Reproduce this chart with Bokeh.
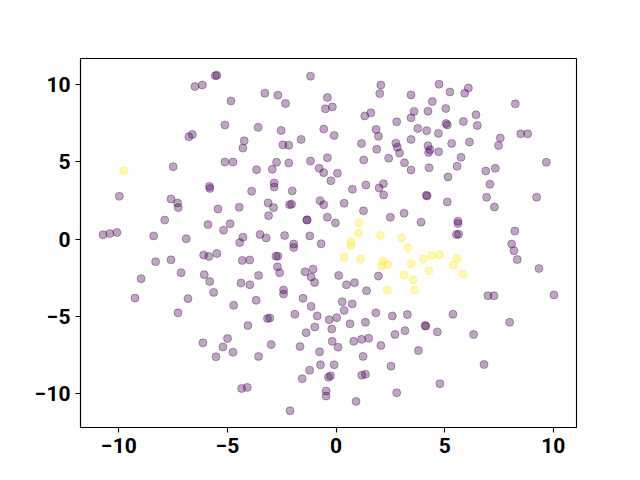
from bokeh.plotting import figure
from bokeh.models import Range1d, FixedTicker, ColumnDataSource
from bokeh.embed import file_html
from bokeh.resources import INLINE
from bokeh.palettes import Viridis256

# class 0 points (purple)
x0 = [-6.50, -6.16, -6.78, -6.62, -7.50, -9.98, -7.60, -7.30, -7.27, -7.89, -10.73, -10.42, -10.09, -8.40, -6.90,
      -5.56, -5.49, -1.18, -4.84, -3.28, -2.68, -2.33, -0.49, -5.12, -3.59, -2.53, -0.57, -4.23, -4.29, -2.45, -2.18,
      -1.61, -5.12, -4.75, -3.66, -2.94, -2.74, -2.18, -1.18, -0.78, -0.57, -5.83, -5.81, -3.89, -2.85, -2.85, -2.02,
      -5.44, -4.46, -3.13, -2.88, -2.14, -2.05, -0.74, -0.57, -3.11, -1.35, -1.33, -5.90, -5.18, -4.88, -4.29, -3.50,
      -3.22, -2.37, -1.21,
      -0.40, -0.17, 2.06, 2.01, 3.45, 4.74, 5.24, 4.43, 5.05, 1.32, 1.60, 2.79, 3.59, 3.45, 4.23, 5.06, 5.12, -0.09,
      1.84, 1.95, 3.76, 4.17, 4.71, 1.17, 1.87, 2.75, 2.82, 2.92, 3.45, 4.23, 4.26, 4.32, 4.72, -0.40, 1.27, 2.42,
      3.15, 3.45, 4.28, 0.06, -0.24, 0.75, 1.37, 1.98, 2.18, 2.19, 5.15, 4.16, 4.19, 5.12, 0.37, 1.26, 2.50, 3.13,
      3.91, -0.40, -0.03,
      5.32, 5.92, 6.09, 8.25, 6.44, 5.86, 6.50, 8.50, 8.82, 7.56, 7.48, 6.14, 5.75, 5.57, 6.89, 7.33, 9.68, 7.08,
      6.93, 7.29, 9.23, 5.61, 5.61, 5.54, 5.64, 8.23,
      -8.31, -7.60, -8.98, -7.14, -9.26, -6.82, -7.28,
      -4.44, -1.95, -1.95, -0.69, -6.10, -5.86, -5.49, -4.32, -3.98, -2.77, -2.68, -2.70, -2.60, -3.57, -4.38, -3.97,
      -6.07, -5.82, -5.64, -2.42, -2.42, -1.43, -1.06, -1.15, -0.99, -1.52, -1.15, -3.68, -4.72, -0.87, -1.90, -3.16,
      -3.05, -4.06, -0.98, -1.38, -6.13, -5.00, -5.21, -4.75, -5.53, -2.99, -3.57, -1.66, -0.76, -0.72, -1.22, -1.56,
      -0.46, -0.46, -4.35, -4.09, -2.12,
      0.12, 0.48, 0.85, 1.95, 1.40, 0.28, 0.74, 0.37, -0.32, 0.03, -0.20, 0.64, 1.35, 1.83, 2.59, 3.28, 4.10, 4.13,
      4.66, 3.17, 2.71, -0.18, 0.09, 0.81, 1.18, 1.50, 2.06, 3.79, 1.24, -0.09, -0.35, -0.26, 2.53, 1.18, 1.35, 2.79,
      4.78, 0.92,
      8.08, 8.19, 8.34, 9.34, 6.99, 7.27, 10.03, 5.38, 7.99, 6.33, 6.81]
y0 = [9.87, 9.97, 6.62, 6.77, 4.68, 2.77, 2.60, 2.34, 2.04, 1.23, 0.28, 0.36, 0.43, 0.21, 0.02,
      10.57, 10.60, 10.54, 8.94, 9.44, 9.31, 8.77, 8.43, 7.39, 7.23, 7.03, 7.12, 6.36, 5.89, 6.10, 6.08,
      6.45, 4.99, 4.99, 4.49, 4.52, 4.97, 4.92, 5.05, 4.58, 4.30, 3.41, 3.28, 3.10, 3.63, 3.37, 3.12,
      1.95, 2.06, 2.34, 2.04, 2.23, 2.26, 2.49, 2.23, 1.52, 1.23, 1.25, 0.94, 0.58, 0.99, 0.13, 0.30,
      0.08, 0.23, 0.21,
      9.16, 8.55, 9.97, 9.42, 9.33, 10.02, 9.52, 8.90, 8.45, 7.97, 8.17, 7.59, 8.26, 7.85, 8.28, 7.48, 7.39, 6.71,
      7.10, 6.65, 7.16, 7.01, 6.84, 6.19, 5.81, 6.21, 5.95, 5.57, 6.45, 6.04, 5.61, 5.78, 5.65, 5.26, 5.12, 5.23,
      4.94, 4.47, 4.62, 4.26, 3.78, 3.23, 3.50, 3.31, 3.59, 2.86, 4.02, 2.84, 2.79, 2.41, 2.32, 1.83, 1.42, 1.68,
      1.10, 1.42, 1.05,
      6.19, 9.44, 9.78, 8.75, 8.04, 7.61, 7.35, 6.81, 6.81, 6.54, 6.06, 6.28, 5.29, 4.71, 4.41, 4.58, 4.97, 3.55,
      2.71, 2.08, 2.71, 1.16, 1.01, 0.30, 0.32, 0.52,
      -1.46, -1.34, -2.56, -2.17, -3.81, -3.85, -4.77,
      -0.22, -0.32, -0.54, -0.30, -1.03, -1.12, -0.93, -1.38, -1.35, -1.10, -1.10, -1.79, -2.17, -2.35, -2.84, -2.95,
      -2.30, -2.74, -3.45, -3.29, -3.55, -2.11, -1.94, -2.45, -2.80, -3.83, -4.35, -3.96, -4.28, -4.97, -4.86, -5.14,
      -5.10, -5.59, -5.68, -6.05, -6.71, -6.43, -6.97, -7.32, -7.61, -6.82, -7.59, -6.95, -7.29, -8.13, -8.48, -9.03,
      -9.83, -10.15, -9.66, -9.59, -11.10,
      -2.35, -2.95, -2.82, -2.39, -3.34, -4.05, -4.19, -4.61, -5.21, -5.08, -5.81, -5.48, -5.38, -4.77, -4.97, -4.88,
      -5.59, -5.63, -6.00, -5.92, -6.17, -6.61, -6.99, -6.61, -6.48, -6.41, -6.88, -7.21, -7.59, -8.13, -8.93, -8.84,
      -8.22, -8.80, -8.74, -9.94, -9.35, -10.50,
      -0.32, -0.75, -1.32, -1.90, -3.66, -3.66, -3.61, -4.86, -5.38, -6.17, -8.11]

# class 1 points (yellow)
x1 = [-9.78, 1.06, 1.03, 2.04, 3.02, 0.69, 0.69, 3.31, 0.37, 1.12, 2.16, 2.10, 2.38, 3.45, 4.02, 4.40, 4.76,
      4.28, 3.13, 3.54, 2.36, 3.62, 5.58, 5.40, 5.84]
y1 = [4.43, 1.05, 0.39, 0.23, 0.08, -0.17, -0.43, -0.58, -1.16, -1.29, -1.40, -1.72, -1.64, -1.59, -1.29, -1.06,
      -1.01, -2.05, -2.32, -2.63, -3.29, -3.29, -1.25, -1.68, -2.26]

ticks = [-10, -5, 0, 5, 10]

c0 = Viridis256[0]
c1 = Viridis256[-1]

all_x = x0 + x1
all_y = y0 + y1
xr = max(all_x) - min(all_x)
yr = max(all_y) - min(all_y)

p = figure(output_backend="svg", toolbar_location=None,
           frame_width=496, frame_height=369,
           min_border_left=80, min_border_right=64, min_border_top=58, min_border_bottom=53,
           x_range=Range1d(min(all_x) - 0.05 * xr, max(all_x) + 0.05 * xr),
           y_range=Range1d(min(all_y) - 0.05 * yr, max(all_y) + 0.05 * yr))

p.background_fill_color = "white"
p.border_fill_color = "white"
p.outline_line_color = "black"
p.outline_line_width = 1.1
p.outline_line_alpha = 1.0
p.grid.visible = False

for ax in (p.xaxis[0], p.yaxis[0]):
    ax.ticker = FixedTicker(ticks=ticks)
    ax.major_label_overrides = {t: (("\u2212" + str(abs(t))) if t < 0 else str(t)) for t in ticks}
    ax.axis_line_color = "black"
    ax.axis_line_width = 1.1
    ax.major_tick_line_color = "black"
    ax.major_tick_line_width = 1.1
    ax.major_tick_in = 0
    ax.major_tick_out = 5
    ax.minor_tick_line_color = None
    ax.major_label_standoff = 5
    ax.major_label_text_font = "Roboto"
    ax.major_label_text_font_style = "bold"
    ax.major_label_text_font_size = "21px"
    ax.major_label_text_color = "black"

src0 = ColumnDataSource(dict(x=x0, y=y0))
src1 = ColumnDataSource(dict(x=x1, y=y1))
p.scatter("x", "y", source=src0, size=8, fill_color=c0, line_color=c0,
          fill_alpha=0.35, line_alpha=0.35, line_width=1)
p.scatter("x", "y", source=src1, size=8, fill_color=c1, line_color=c1,
          fill_alpha=0.35, line_alpha=0.35, line_width=1)

open("out.html", "w").write(file_html(p, INLINE))
